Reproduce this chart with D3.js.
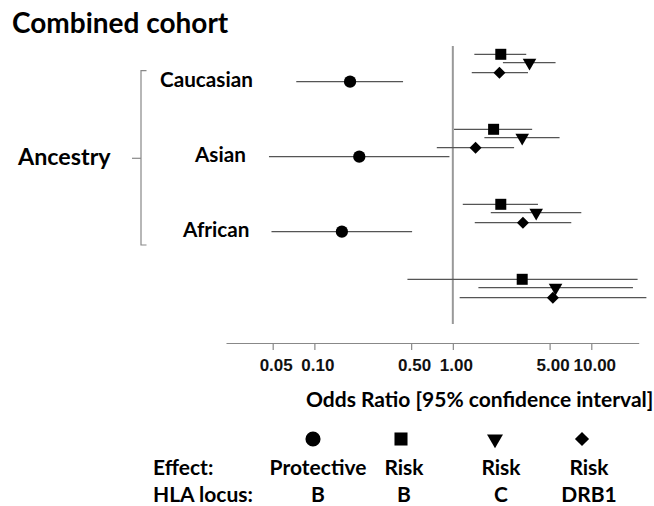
<!DOCTYPE html>
<html>
<head>
<meta charset="utf-8">
<script src="https://cdn.jsdelivr.net/npm/d3@7"></script>
<style>
  body { margin: 0; background: #fff; }
  svg text { font-family: Lato, "Open Sans", sans-serif; font-weight: 700; fill: #000; }
</style>
</head>
<body>
<svg id="chart" width="654" height="506"></svg>
<script>
// groups (rows), the last one is the combined cohort and has no label
var groups = ["Caucasian", "Asian", "African", "Combined"];
var groupLabels = ["Caucasian", "Asian", "African", ""];

// odds ratios and 95% CI
var protB_or = [0.181, 0.211, 0.158, null];
var protB_lo = [0.074, 0.047, 0.049, null];
var protB_hi = [0.437, 0.945, 0.508, null];

var riskB_or = [2.22, 1.97, 2.22, 3.17];
var riskB_lo = [1.43, 1.02, 1.18, 0.47];
var riskB_hi = [3.39, 3.74, 4.12, 21.6];

var riskC_or = [3.58, 3.17, 4.00, 5.52];
var riskC_lo = [2.30, 1.69, 1.88, 1.53];
var riskC_hi = [5.52, 5.90, 8.47, 20.0];

var riskDRB1_or = [2.17, 1.46, 3.21, 5.28];
var riskDRB1_lo = [1.37, 0.766, 1.44, 1.12];
var riskDRB1_hi = [3.49, 2.77, 7.17, 25.0];

var tickVals = [0.05, 0.1, 0.5, 1, 5, 10];

var effectLabels = ["Protective", "Risk", "Risk", "Risk"];
var locusLabels = ["B", "B", "C", "DRB1"];

var svg = d3.select("#chart");

var x = d3.scaleLog().domain([0.023, 22]).range([226, 638.7]);
var y = d3.scalePoint().domain(groups).range([81.7, 306.7]);

// one entry per marker type
var series = [
  { or: protB_or, lo: protB_lo, hi: protB_hi, shape: d3.symbolCircle, size: 118, rot: 0, dy: 0 },
  { or: riskB_or, lo: riskB_lo, hi: riskB_hi, shape: d3.symbolSquare, size: 121, rot: 0, dy: -27.4 },
  { or: riskC_or, lo: riskC_lo, hi: riskC_hi, shape: d3.symbolTriangle, size: 80, rot: 180, dy: -19 },
  { or: riskDRB1_or, lo: riskDRB1_lo, hi: riskDRB1_hi, shape: d3.symbolSquare, size: 72, rot: 45, dy: -9 }
];

// title
svg.append("text").attr("x", 12).attr("y", 33).style("font-size", "28px").text("Combined cohort");

// reference line at OR = 1
svg.append("line")
  .attr("x1", x(1)).attr("x2", x(1))
  .attr("y1", 46).attr("y2", 324)
  .attr("stroke", "#999").attr("stroke-width", 2);

// bracket + ancestry label
var br = svg.append("g").attr("fill", "none").attr("stroke", "#888").attr("stroke-width", 1.2);
br.append("path").attr("d", "M146.5,70.7 H141 V245 H146.5");
br.append("path").attr("d", "M132,158.3 H141");
svg.append("text").attr("x", 18).attr("y", 165).style("font-size", "23.3px").text("Ancestry");

var labelX = [160, 195, 183, 0];
svg.selectAll(".glab").data(groups).enter().append("text")
  .attr("class", "glab")
  .attr("x", function (d, i) { return labelX[i]; })
  .attr("y", function (d) { return y(d) + 5; })
  .style("font-size", "20.7px")
  .text(function (d, i) { return groupLabels[i]; });

// CI lines and markers
series.forEach(function (s) {
  var g = svg.append("g");
  groups.forEach(function (grp, i) {
    if (s.or[i] == null) return;
    var yy = y(grp) + s.dy;
    g.append("line")
      .attr("x1", x(s.lo[i])).attr("x2", x(s.hi[i]))
      .attr("y1", yy).attr("y2", yy)
      .attr("stroke", "#555").attr("stroke-width", 1.2);
    g.append("path")
      .attr("d", d3.symbol().type(s.shape).size(s.size)())
      .attr("transform", "translate(" + x(s.or[i]) + "," + yy + ") rotate(" + s.rot + ")")
      .attr("fill", "#000");
  });
});

// x axis
var ax = svg.append("g").attr("transform", "translate(0,343)")
  .call(d3.axisBottom(x).tickValues(tickVals).tickFormat(d3.format(".2f")).tickSize(7).tickSizeOuter(0));
ax.select(".domain").attr("stroke", "#888").attr("stroke-width", 1.2);
ax.selectAll(".tick line").attr("stroke", "#888").attr("stroke-width", 1.2);
ax.selectAll(".tick text").attr("y", 28).attr("dy", 0).attr("dx", 3)
  .style("font-size", "17px").style("font-family", "'Liberation Sans', Arial, sans-serif")
  .style("font-weight", "700").style("fill", "#111");

svg.append("text").attr("x", 306).attr("y", 407).style("font-size", "21px")
  .text("Odds Ratio [95% confidence interval]");

// legend
var markX = [313, 401, 495, 582];
var textX = [318, 404, 501, 589];
var legSize = [180, 170, 110, 100];
svg.append("text").attr("x", 153).attr("y", 475).style("font-size", "21px").text("Effect:");
svg.append("text").attr("x", 153).attr("y", 501.5).style("font-size", "21px").text("HLA locus:");
series.forEach(function (s, i) {
  svg.append("path")
    .attr("d", d3.symbol().type(s.shape).size(legSize[i])())
    .attr("transform", "translate(" + markX[i] + ",439) rotate(" + s.rot + ")")
    .attr("fill", "#000");
  svg.append("text").attr("x", textX[i]).attr("y", 475).attr("text-anchor", "middle")
    .style("font-size", "21px").text(effectLabels[i]);
  svg.append("text").attr("x", textX[i]).attr("y", 501.5).attr("text-anchor", "middle")
    .style("font-size", "21px").text(locusLabels[i]);
});
</script>
</body>
</html>
